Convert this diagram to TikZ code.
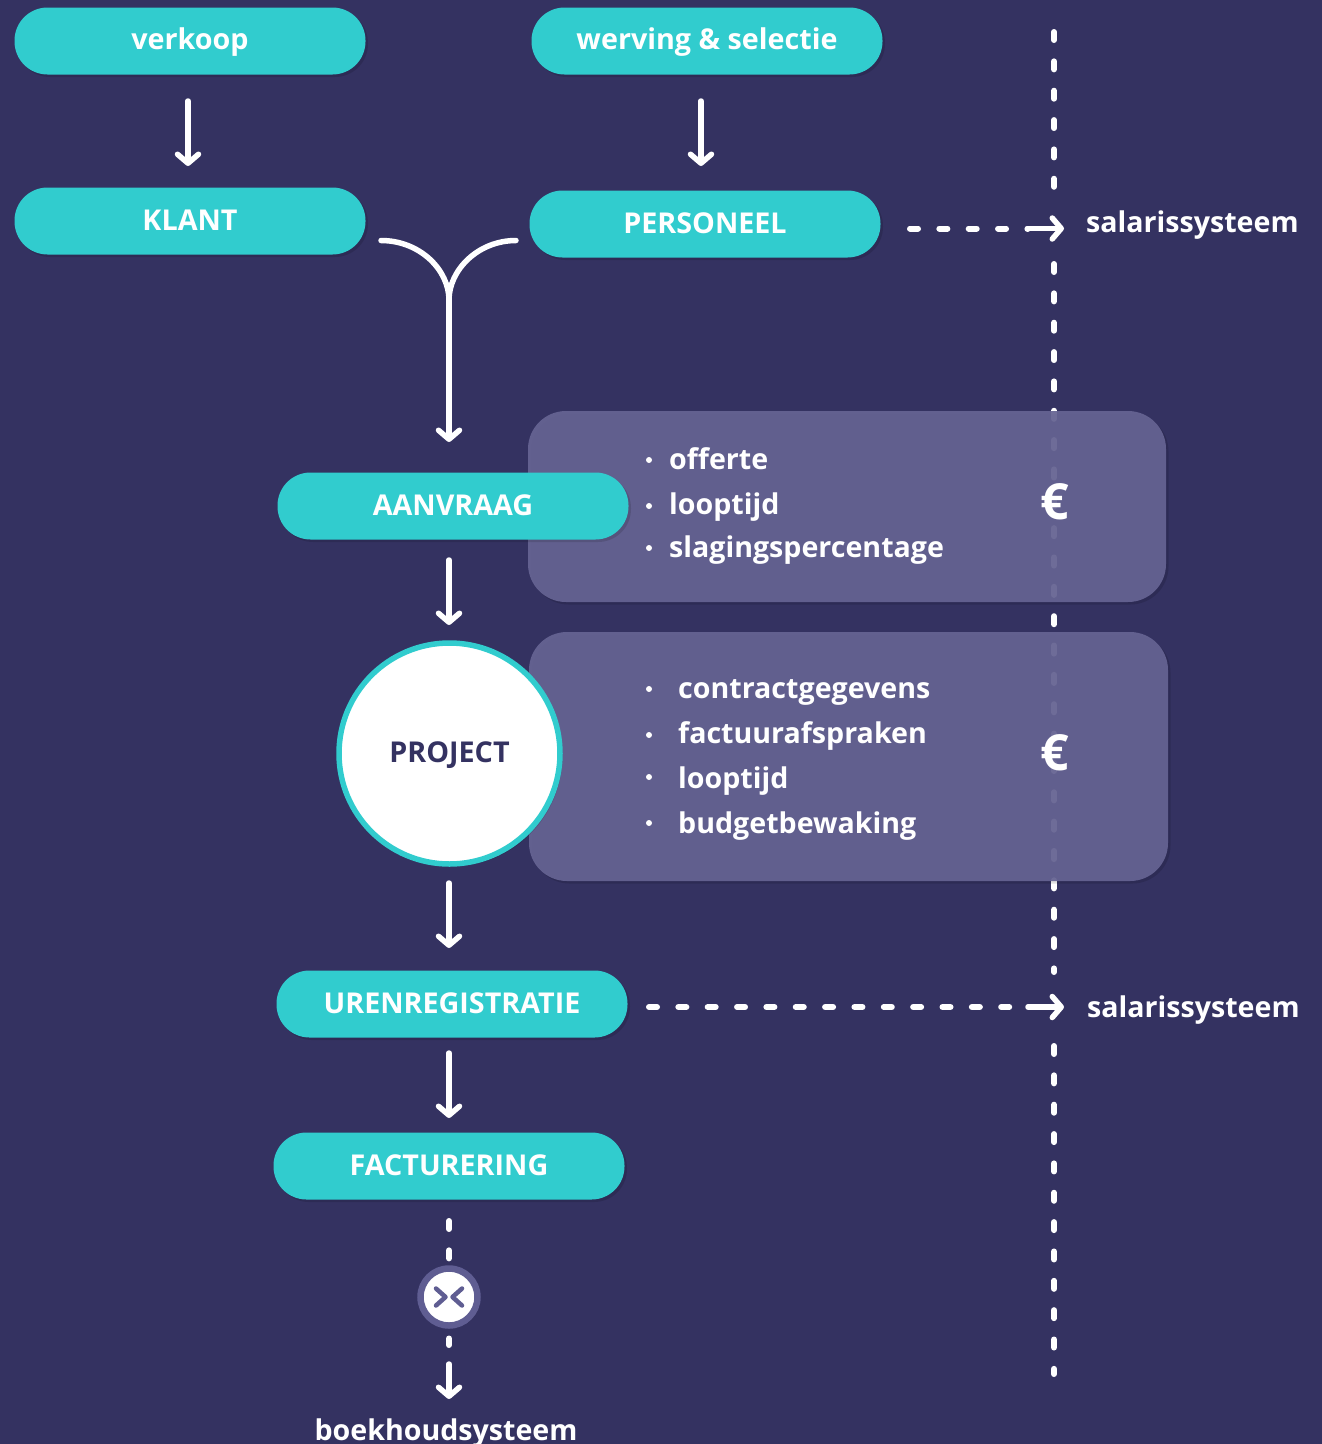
\documentclass[tikz,border=0pt]{standalone}
\usepackage{fontspec}
\setmainfont{Open Sans}
\usetikzlibrary{arrows.meta,shadows,calc}
\definecolor{bgc}{HTML}{343261}
\definecolor{teal}{HTML}{31CCCE}
\definecolor{panelc}{HTML}{666493}
\definecolor{iconc}{HTML}{5F5D92}
\newcommand{\sz}[1]{\fontsize{#1}{#1}\selectfont\bfseries}
\tikzset{
  softshadow/.style={drop shadow={shadow xshift=2.5pt,shadow yshift=-2.5pt,fill=black,opacity=.12}},
  pill/.style={rectangle,rounded corners=33pt,fill=teal,softshadow,minimum width=351pt,minimum height=67pt,inner sep=0pt,text=white,font=\sz{28.7},text height=19pt,text depth=0pt,align=center},
  panel/.style={fill=panelc,fill opacity=.93,rounded corners=38pt,softshadow},
  lineshadow/.style={preaction={draw=black,draw opacity=.15,transform canvas={shift={(1.5pt,-1.5pt)}}}},
  conn/.style={draw=white,line width=5.5pt,line cap=round,line join=round},
  tipped/.style={conn,lineshadow,-{Straight Barb[length=9pt,width=21pt,round,line width=5.5pt]}},
  dashes/.style={draw=white,line width=6pt,line cap=round,dash pattern=on 8pt off 21.35pt},
  lbl/.style={inner sep=0pt,text=white,font=\sz{28.6},anchor=base west},
  bullet/.style={circle,fill=white,inner sep=0pt,minimum size=6pt},
  euro/.style={inner sep=0pt,text=white,font=\sz{50},anchor=base}
}
\begin{document}
\begin{tikzpicture}[x=1pt,y=-1pt]
\useasboundingbox (0,0) rectangle (1322,1444);
\fill[bgc] (0,0) rectangle (1322,1444);
% vertical dashed divider
\coordinate (v0) at (1054,32);
\coordinate (v1) at (1054,190);
\coordinate (v2) at (1054,264);
\coordinate (v3) at (1054,972);
\coordinate (v4) at (1054,1046);
\coordinate (v5) at (1054,1374);
\draw[dashes] (v0) -- (v1);
\draw[dashes] (v2) -- (v3);
\draw[dashes] (v4) -- (v5);
% panels
\path[panel] (528,411) rectangle (1166,602);
\path[panel] (529,632) rectangle (1168,881);
% pills
\node[pill,text height=17pt] (verkoop) at (190,41) {verkoop};
\node[pill,text height=17pt] (werving) at (707,41) {werving \& selectie};
\node[pill] (klant) at (190,221) {KLANT};
\node[pill,text height=18pt] (personeel) at (705,224) {PERSONEEL};
\node[pill] (aanvraag) at (453,506) {AANVRAAG};
\node[pill] (uren) at (452,1004) {URENREGISTRATIE};
\node[pill] (fact) at (449,1166) {FACTURERING};
\node[circle,fill=white,draw=teal,line width=5.5pt,minimum size=221pt,inner sep=0pt,softshadow,text=bgc,font=\sz{28.7},text height=18pt,text depth=0pt] (project) at (449.5,753.5) {PROJECT};
% panel texts
\node[bullet] (b1) at (649,460) {};
\node[bullet] (b2) at (649,506) {};
\node[bullet] (b3) at (649,548) {};
\node[lbl] (t1) at (669,469) {offerte};
\node[lbl] (t2) at (669,514) {looptijd};
\node[lbl] (t3) at (669,557) {slagingspercentage};
\node[bullet] (c1) at (649,689) {};
\node[bullet] (c2) at (649,735) {};
\node[bullet] (c3) at (649,777) {};
\node[bullet] (c4) at (649,823) {};
\node[lbl] (u1) at (678,698) {contractgegevens};
\node[lbl] (u2) at (678,743) {factuurafspraken};
\node[lbl] (u3) at (678,788) {looptijd};
\node[lbl] (u4) at (678,833) {budgetbewaking};
\node[euro] (e1) at (1055,519.5) {€};
\node[euro] (e2) at (1055,770.5) {€};
\node[lbl] (s1) at (1086,232) {salarissysteem};
\node[lbl] (s2) at (1087,1017) {salarissysteem};
\node[lbl,anchor=base] (bk) at (446,1440) {boekhoudsysteem};
% merge/exit icon
\node[circle,fill=white,draw=iconc,line width=6.5pt,minimum size=57pt,inner sep=0pt,softshadow] (mx) at (449,1297) {};
\draw[draw=iconc,line width=4.5pt,line cap=round,line join=round] ($(mx)+(-13,-8.5)$) -- ($(mx)+(-3.5,0)$) -- ($(mx)+(-13,8.5)$);
\draw[draw=iconc,line width=4.5pt,line cap=round,line join=round] ($(mx)+(13,-8.5)$) -- ($(mx)+(3.5,0)$) -- ($(mx)+(13,8.5)$);
% arrows
\coordinate (a1s) at (188,101); \coordinate (a1e) at (188,166);
\coordinate (a2s) at (701,101); \coordinate (a2e) at (701,166);
\draw[tipped] (a1s) -- (a1e);
\draw[tipped] (a2s) -- (a2e);
\coordinate (ml) at (381,240.5);
\coordinate (mr) at (516,240.5);
\coordinate (mj) at (449,300);
\coordinate (me) at (449,442);
\draw[conn,lineshadow] (ml) .. controls (420,240.5) and (449,270) .. (mj);
\draw[conn,lineshadow] (mr) .. controls (478,240.5) and (449,270) .. (mj);
\draw[tipped] (mj) -- (me);
\coordinate (a3s) at (449,560); \coordinate (a3e) at (449,625);
\draw[tipped] (a3s) -- (a3e);
\coordinate (a4s) at (449,883); \coordinate (a4e) at (449,948);
\draw[tipped] (a4s) -- (a4e);
\coordinate (a5s) at (449,1053); \coordinate (a5e) at (449,1118);
\draw[tipped] (a5s) -- (a5e);
% dashed horizontal
\coordinate (h1s) at (910,228.5); \coordinate (h1m) at (1028,228.5); \coordinate (h1e) at (1064,228.5);
\draw[dashes] (h1s) -- (h1m);
\draw[tipped] (h1m) -- (h1e);
\coordinate (h2s) at (649,1007); \coordinate (h2m) at (1028,1007); \coordinate (h2e) at (1064,1007);
\draw[dashes] (h2s) -- (h2m);
\draw[tipped] (h2m) -- (h2e);
% bottom
\coordinate (d1) at (449,1221);
\coordinate (d2) at (449,1262);
\draw[dashes] (d1) -- (d2);
\coordinate (d3) at (449,1338.5);
\coordinate (d4) at (449,1345);
\draw[dashes] (d3) -- (d4);
\coordinate (d5) at (449,1364); \coordinate (d6) at (449,1399);
\draw[tipped] (d5) -- (d6);
\end{tikzpicture}
\end{document}
